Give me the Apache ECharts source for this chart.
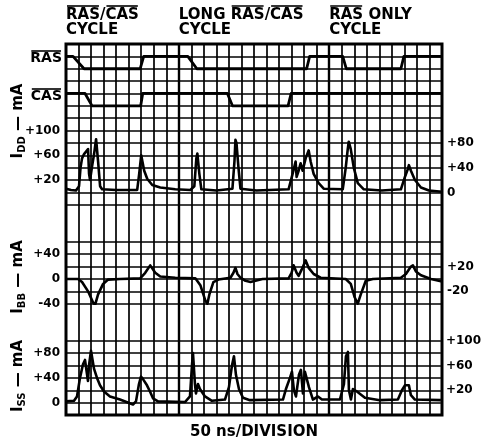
<!DOCTYPE html>
<html><head><meta charset="utf-8">
<script src="https://cdn.jsdelivr.net/npm/echarts@6/dist/echarts.min.js"></script>
<style>html,body{margin:0;padding:0;background:#fff}#c{width:484px;height:441px}</style>
</head><body><div id="c"></div>
<script>
// ---- data (time in ns, 50 ns per division, 30 divisions) ----
const timeMax = 1500;
const nsPerDivision = 50;
const cycleStarts = [0, 450, 1050];
// logic levels: 1 = high, 0 = low
const rasTrace = [[0,1],[28,1],[72,0],[296,0],[310,1],[486,1],[522,0],[960,0],[972,1],[1104,1],[1118,0],[1336,0],[1348,1],[1500,1]];
const casTrace = [[0,1],[76,1],[104,0],[298,0],[306,1],[644,1],[664,0],[886,0],[898,1],[1500,1]];
// currents in mA
const iddTrace = [[0,6],[20,4],[40,3],[52,10],[58,40],[64,55],[72,62],[80,66],[88,70],[92,30],[96,20],[104,42],[112,62],[120,86],[124,88],[128,50],[136,10],[144,5],[200,4],[284,4],[292,30],[300,60],[304,62],[312,35],[324,22],[344,12],[376,8],[436,5],[496,4],[512,10],[520,55],[524,63],[532,30],[540,5],[600,3],[664,6],[672,50],[676,85],[680,80],[688,40],[696,6],[760,3],[888,5],[904,30],[916,50],[920,25],[928,35],[936,47],[944,35],[956,55],[968,68],[976,50],[988,30],[1008,15],[1028,6],[1104,5],[1116,40],[1124,70],[1128,82],[1136,70],[1148,40],[1164,15],[1188,5],[1260,3],[1336,5],[1352,25],[1364,38],[1368,44],[1376,35],[1392,20],[1416,8],[1448,3],[1500,1]];
const ibbTrace = [[0,0],[48,0],[64,-5],[88,-20],[108,-38],[116,-42],[128,-25],[148,-8],[168,-1],[216,0],[296,1],[316,10],[336,22],[356,10],[376,4],[436,2],[516,1],[536,-10],[556,-35],[564,-40],[572,-25],[588,-5],[608,-1],[656,2],[668,10],[676,18],[684,8],[696,2],[716,-3],[736,-5],[784,0],[888,1],[900,10],[908,22],[920,10],[928,5],[940,15],[956,30],[968,18],[988,8],[1016,2],[1116,0],[1136,-8],[1152,-30],[1164,-40],[1176,-25],[1196,-3],[1224,0],[1336,2],[1356,8],[1376,20],[1384,22],[1396,12],[1416,6],[1456,0],[1500,-4]];
const issTrace = [[0,2],[32,3],[44,10],[56,40],[68,62],[76,69],[80,68],[88,35],[92,60],[100,84],[104,86],[112,55],[124,40],[136,28],[152,18],[176,10],[216,5],[268,-3],[280,2],[292,30],[300,42],[308,38],[324,28],[336,18],[348,7],[368,2],[476,1],[496,10],[504,60],[508,80],[516,30],[520,15],[528,30],[536,22],[556,10],[584,3],[636,5],[652,25],[664,60],[672,75],[680,45],[692,22],[708,8],[736,4],[868,5],[880,22],[896,40],[904,50],[912,20],[920,10],[932,45],[940,53],[948,15],[956,50],[964,53],[972,25],[988,5],[1008,10],[1024,5],[1096,5],[1112,30],[1120,75],[1128,82],[1132,20],[1140,5],[1148,22],[1164,18],[1196,8],[1256,4],[1328,5],[1344,20],[1356,28],[1372,28],[1380,12],[1396,5],[1500,4]];
// tick labels
const iddLeftTicks = [20,60,100], iddRightTicks = [0,40,80];
const ibbLeftTicks = [40,0,-40], ibbRightTicks = [20,-20];
const issLeftTicks = [80,40,0], issRightTicks = [100,60,20];
const cycleTitles = [['RAS/CAS','CYCLE'],['LONG RAS/CAS','CYCLE'],['RAS ONLY','CYCLE']];
const xLabel = '50 ns/DIVISION';

// ---- layout ----
const L = 66, W = 376, T = 44, H = 371, ROW = H / 30;
const INK = '#000';
const FF = '"DejaVu Sans", sans-serif';
const gridLine = { show: true, lineStyle: { color: INK, width: 1.7 } };
const fmt = v => v > 0 ? '+' + v : String(v);
const lab = (vals, margin) => ({ customValues: vals, formatter: fmt, color: INK, fontFamily: FF, fontWeight: 'bold', fontSize: 12, margin: margin });

function gridAt(r0, r1) { return { left: L, width: W, top: T + r0 * ROW, height: (r1 - r0) * ROW }; }
const grids = [
  Object.assign({ show: true, borderColor: INK, borderWidth: 3, backgroundColor: 'transparent' }, gridAt(0, 30)),
  gridAt(0, 13), gridAt(16, 21), gridAt(24, 30)
];
const xAxes = grids.map((g, i) => ({
  type: 'value', gridIndex: i, min: 0, max: timeMax, interval: nsPerDivision,
  axisLine: { show: false }, axisTick: { show: false }, axisLabel: { show: false },
  splitLine: i === 0 ? gridLine : { show: false }
}));
function valAxis(grid, min, max, pos, ticks, split, margin) {
  return { type: 'value', gridIndex: grid, min, max, interval: 20, position: pos,
    axisLine: { show: false }, axisTick: { show: false },
    axisLabel: lab(ticks, margin), splitLine: split ? gridLine : { show: false } };
}
const hidden = (grid, min, max) => ({ type: 'value', gridIndex: grid, min, max, show: false, splitLine: { show: false } });
const yAxes = [
  hidden(0, 0, 1),                                      // 0
  valAxis(1, -20, 240, 'left', iddLeftTicks, true, 6),   // 1
  valAxis(1, -20, 240, 'right', iddRightTicks, false, 5),// 2
  hidden(1, -11, 2),                                    // 3 RAS
  hidden(1, -8, 5),                                     // 4 CAS
  valAxis(2, -40, 60, 'left', ibbLeftTicks, true, 6),    // 5
  valAxis(2, -40, 60, 'right', ibbRightTicks, false, 5), // 6
  valAxis(3, -20, 100, 'left', issLeftTicks, true, 6),   // 7
  valAxis(3, -20, 100, 'right', issRightTicks, false, 5) // 8
];
const trace = (data, xi, yi, w) => ({ type: 'line', data, xAxisIndex: xi, yAxisIndex: yi, showSymbol: false, symbol: 'none',
  lineStyle: { color: INK, width: w || 2.6, join: 'round' }, animation: false, z: 5 });
const series = [
  // cycle boundary lines (slightly heavier grid lines)
  { type: 'line', data: [], xAxisIndex: 0, yAxisIndex: 0, showSymbol: false, z: 3, silent: true,
    markLine: { symbol: 'none', silent: true, animation: false, label: { show: false },
      lineStyle: { color: INK, width: 2.4, type: 'solid' },
      data: cycleStarts.filter(t => t > 0).map(t => ({ xAxis: t })) } },
  trace(rasTrace, 1, 3, 2.8), trace(casTrace, 1, 4, 2.8),
  trace(iddTrace, 1, 1), trace(ibbTrace, 2, 5), trace(issTrace, 3, 7)
];

// ---- text decorations ----
const TF = 'bold 15px ' + FF;
const ctx = document.createElement('canvas').getContext('2d');
const tw = (s, f) => { ctx.font = f; return ctx.measureText(s).width; };
const graphic = [];
const text = (x, y, s, font, align) => graphic.push({ type: 'text', x, y, style: { text: s, font, fill: INK, align: align || 'left', verticalAlign: 'middle' } });
const over = (x0, x1, y) => graphic.push({ type: 'line', shape: { x1: x0, y1: y, x2: x1, y2: y }, style: { stroke: INK, lineWidth: 1.6 } });
cycleTitles.forEach((t, i) => {
  const x = L + cycleStarts[i] / timeMax * W;
  text(x, 15, t[0], TF); text(x, 30, t[1], TF);
  let idx = 0;
  ['RAS', 'CAS'].forEach(w => {
    const p = t[0].indexOf(w, idx);
    if (p >= 0) { const a = x + tw(t[0].slice(0, p), TF); over(a + 1, a + tw(w, TF) - 1, 6); idx = p + w.length; }
  });
});
const SF = 'bold 14px ' + FF;
text(62, 58, 'RAS', SF, 'right'); over(62 - tw('RAS', SF) + 1, 61, 51);
text(62, 96, 'CAS', SF, 'right'); over(62 - tw('CAS', SF) + 1, 61, 89);
text(254, 432, xLabel, TF, 'center');
function axisName(y, sub) {
  graphic.push({ type: 'text', x: 18, y, rotation: Math.PI / 2, style: {
    text: '{b|I}{s|' + sub + '}{b| — mA}', align: 'center', verticalAlign: 'middle', fill: INK,
    rich: { b: { fontFamily: FF, fontWeight: 'bold', fontSize: 15, lineHeight: 18, verticalAlign: 'middle' },
            s: { fontFamily: FF, fontWeight: 'bold', fontSize: 10, lineHeight: 18, verticalAlign: 'bottom' } } } });
}
axisName(121, 'DD'); axisName(277, 'BB'); axisName(376, 'SS');

const chart = echarts.init(document.getElementById('c'), null, { renderer: 'canvas' });
chart.setOption({ animation: false, backgroundColor: '#fff', grid: grids, xAxis: xAxes, yAxis: yAxes, series, graphic });
</script></body></html>
